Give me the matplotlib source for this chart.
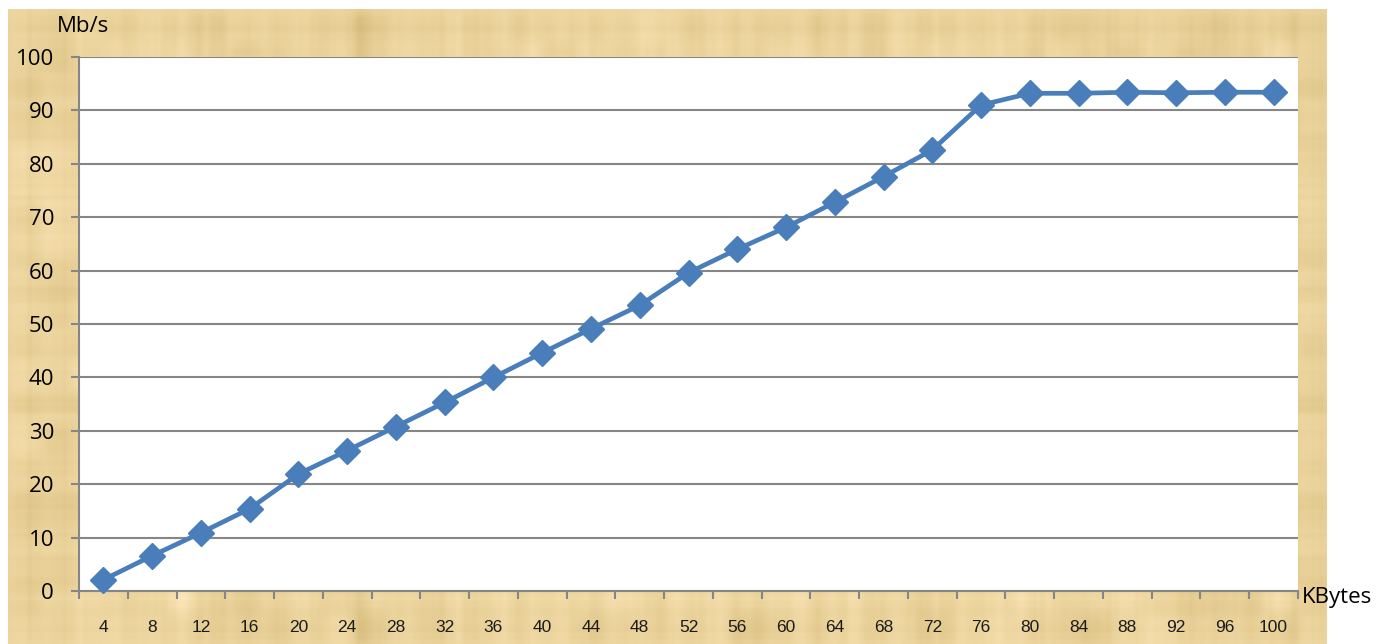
import numpy as np
import matplotlib
matplotlib.use("Agg")
import matplotlib.pyplot as plt
from matplotlib.ticker import FixedLocator, NullFormatter

# Block size (KBytes) and measured throughput (Mb/s)
block_kb = [4, 8, 12, 16, 20, 24, 28, 32, 36, 40, 44, 48, 52,
            56, 60, 64, 68, 72, 76, 80, 84, 88, 92, 96, 100]
throughput = [2.1, 6.6, 10.9, 15.4, 21.9, 26.3, 30.8, 35.3, 40.0, 44.6,
              49.1, 53.5, 59.6, 64.0, 68.1, 72.8, 77.6, 82.6, 91.0,
              93.2, 93.2, 93.4, 93.3, 93.4, 93.4]
y_ticks = [0, 10, 20, 30, 40, 50, 60, 70, 80, 90, 100]

W, H = 1389, 644
fig = plt.figure(figsize=(W / 100, H / 100), dpi=100, facecolor="white")

# Papyrus-like backdrop behind the chart
bg = fig.add_axes([8 / W, 0, (1327 - 8) / W, (H - 9) / H])
bg.set_axis_off()
rng = np.random.default_rng(7)
ny, nx = 160, 336
streak_h = rng.normal(0, 1, (ny, 1)) * np.ones((1, nx))
streak_v = np.ones((ny, 1)) * rng.normal(0, 1, (1, nx))
blot = rng.normal(0, 1, (ny // 8, nx // 8))
blot = np.kron(blot, np.ones((8, 8)))[:ny, :nx]
tex = 0.5 * streak_h + 0.5 * streak_v + 0.25 * blot
k = np.ones(4) / 4
tex = np.apply_along_axis(lambda r: np.convolve(r, k, mode="same"), 1, tex)
tex = np.apply_along_axis(lambda c: np.convolve(c, k, mode="same"), 0, tex)
tex = (tex - tex.mean()) / tex.std()
base = np.array([0.920, 0.825, 0.610])
img = base[None, None, :] + 0.018 * tex[:, :, None] * np.array([1.0, 1.1, 1.6])
img = np.clip(img, 0, 1)
bg.imshow(img, aspect="auto", interpolation="bilinear", extent=[0, 1, 0, 1])
bg.set_xlim(0, 1)
bg.set_ylim(0, 1)

# Plot area
left, right, top, bottom = 79, 1298, 57, 591
ax = fig.add_axes([left / W, (H - bottom) / H, (right - left) / W, (bottom - top) / H])
ax.set_facecolor("white")

grid_c = "#868686"
n = len(block_kb)
xs = np.arange(n) + 0.5

ax.set_xlim(0, n)
ax.set_ylim(0, 100)
ax.set_yticks(y_ticks)
ax.yaxis.grid(True, color=grid_c, linewidth=1.5)
ax.set_axisbelow(True)

ax.plot(xs, throughput, color="#4A7EBB", linewidth=3.4, marker="D",
        markersize=13, markerfacecolor="#4A7EBB", markeredgecolor="#4A7EBB",
        zorder=3, clip_on=False)

for s in ("top", "right"):
    ax.spines[s].set_visible(False)
for s in ("left", "bottom"):
    ax.spines[s].set_color(grid_c)
    ax.spines[s].set_linewidth(1.5)

# Category labels centred, tick marks on category boundaries
ax.set_xticks(xs)
ax.set_xticklabels([str(v) for v in block_kb], fontfamily="Liberation Sans",
                   fontsize=12.5, color="#1a1a1a")
ax.tick_params(axis="x", which="major", length=0, pad=21)
ax.xaxis.set_minor_locator(FixedLocator(np.arange(n + 1)))
ax.xaxis.set_minor_formatter(NullFormatter())
ax.tick_params(axis="x", which="minor", length=6, width=1.5, color=grid_c,
               direction="out")

ax.tick_params(axis="y", length=6, width=1.5, color=grid_c, pad=12,
               labelsize=16)
for lab in ax.get_yticklabels():
    lab.set_fontfamily("Open Sans")

fig.text(57 / W, 1 - 27 / H, "Mb/s", fontfamily="Open Sans", fontsize=16,
         ha="left", va="center", color="black")
fig.text(1302 / W, 1 - 597 / H, "KBytes", fontfamily="Open Sans", fontsize=16,
         ha="left", va="center", color="black")

fig.savefig("out.png", dpi=100, facecolor="white")
